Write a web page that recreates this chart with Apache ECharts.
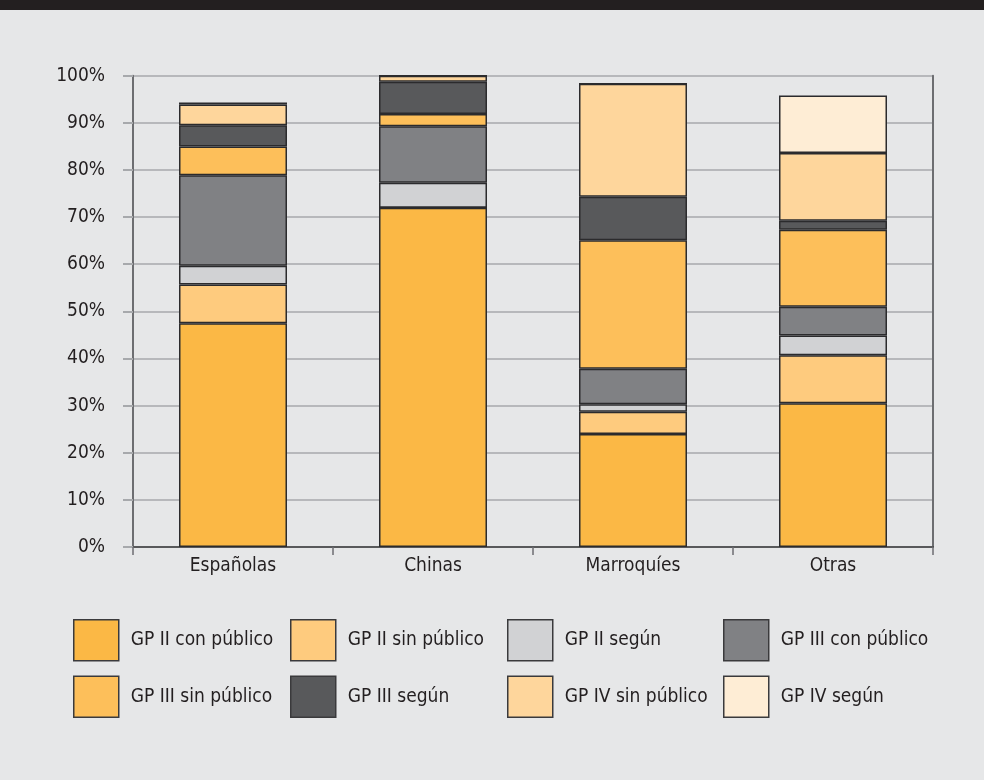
<!DOCTYPE html>
<html>
<head>
<meta charset="utf-8">
<script src="https://cdn.jsdelivr.net/npm/echarts@6/dist/echarts.min.js"></script>
<style>
html,body{margin:0;padding:0;background:#E6E7E8;}
#c{width:984px;height:780px;}
</style>
</head>
<body>
<div id="c"></div>
<script>
var categories = ['Españolas', 'Chinas', 'Marroquíes', 'Otras'];
var seriesNames = ['GP II con público', 'GP II sin público', 'GP II según', 'GP III con público',
                   'GP III sin público', 'GP III según', 'GP IV sin público', 'GP IV según'];
var gpIIcon   = [47.5, 72.0, 24.0, 30.5];
var gpIIsin   = [8.2, 0, 4.7, 10.2];
var gpIIsegun = [4.0, 5.3, 1.6, 4.2];
var gpIIIcon  = [19.2, 12.0, 7.5, 6.1];
var gpIIIsin  = [6.1, 2.6, 27.3, 16.3];
var gpIIIsegun= [4.5, 6.8, 9.2, 1.9];
var gpIVsin   = [4.4, 1.3, 24.0, 14.4];
var gpIVsegun = [0.4, 0, 0, 12.2];
var yTicks = [0, 10, 20, 30, 40, 50, 60, 70, 80, 90, 100];

var colors = ['#FBB845', '#FECB7E', '#D1D2D4', '#808184', '#FDBF5A', '#58595B', '#FED69C', '#FEEDD5'];
var values = [gpIIcon, gpIIsin, gpIIsegun, gpIIIcon, gpIIIsin, gpIIIsegun, gpIVsin, gpIVsegun];

var FONT = "'Liberation Sans Narrow', 'DejaVu Sans Condensed', 'Roboto', sans-serif";
var TXT = '#231F20';

var series = seriesNames.map(function (n, i) {
  return {
    name: n, type: 'bar', stack: 'total', barWidth: 108,
    xAxisIndex: 0, yAxisIndex: 0,
    itemStyle: { color: colors[i], borderColor: '#2B2B2D', borderWidth: 1.5 },
    data: values[i]
  };
});

var legendCols = [[0, 4], [1, 5], [2, 6], [3, 7]];
var legendLeft = [73, 290, 507, 723];
var legends = legendCols.map(function (col, k) {
  return {
    orient: 'vertical', left: legendLeft[k], top: 619, padding: 0,
    icon: 'rect',
    itemWidth: 45, itemHeight: 41, itemGap: 14,
    data: col.map(function (i) { return seriesNames[i]; }),
    textStyle: { fontFamily: FONT, fontSize: 19, color: TXT, padding: [0, 0, 0, 7] },
    itemStyle: { borderColor: '#3A3A3C', borderWidth: 1.5 },
    selectedMode: false
  };
});

var chart = echarts.init(document.getElementById('c'));
chart.setOption({
  backgroundColor: '#E6E7E8',
  animation: false,
  graphic: [{ type: 'rect', shape: { x: 0, y: 0, width: 984, height: 10 }, style: { fill: '#231F20' } }],
  grid: { left: 133, right: 51, top: 75.7, bottom: 233, containLabel: false },
  legend: legends,
  xAxis: [{
    type: 'category', data: categories,
    axisLine: { lineStyle: { color: '#231F20', width: 2 } },
    axisTick: { show: true, length: 8, lineStyle: { color: '#6D6E71', width: 1.5 } },
    axisLabel: { fontFamily: FONT, fontSize: 19, color: TXT, margin: 10 }
  }, {
    type: 'category', data: categories, position: 'top',
    axisLine: { lineStyle: { color: '#58595B', width: 2 } },
    axisTick: { show: false }, axisLabel: { show: false }
  }],
  yAxis: [{
    type: 'value', min: 0, max: 100, interval: 10,
    axisLine: { show: true, lineStyle: { color: '#6D6E71', width: 2 } },
    axisTick: { show: true, length: 10, lineStyle: { color: '#A7A9AC', width: 2 } },
    splitLine: { show: true, lineStyle: { color: '#A7A9AC', width: 1.5 } },
    axisLabel: { formatter: '{value}%', fontFamily: FONT, fontSize: 19, color: TXT, margin: 28 }
  }, {
    type: 'value', min: 0, max: 100, interval: 10, position: 'right',
    axisLine: { show: true, lineStyle: { color: '#6D6E71', width: 2 } },
    axisTick: { show: false }, axisLabel: { show: false }, splitLine: { show: false }
  }],
  series: series
});
</script>
</body>
</html>
